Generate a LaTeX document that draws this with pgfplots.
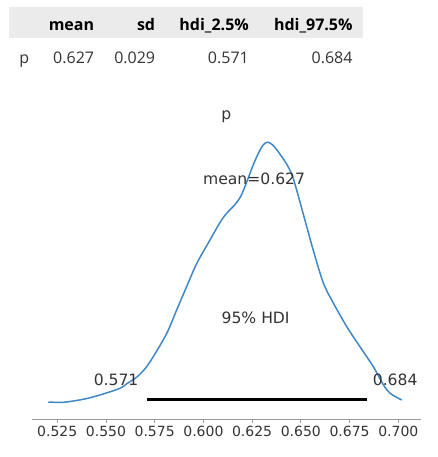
\documentclass[border=0pt]{standalone}
\usepackage{fontspec}
\usepackage{pgfplots}
\pgfplotsset{compat=1.18}
\setmainfont{DejaVu Sans}
\newfontfamily\tablefont{Open Sans}
\definecolor{kde}{HTML}{3F88C5}
\definecolor{txt}{HTML}{333333}
\definecolor{hdrbg}{HTML}{EBEBEB}
\definecolor{spine}{HTML}{9A9A9A}

\tikzset{lab/.style={text=txt, inner sep=0pt, font=\fontsize{15.6}{18}\selectfont}}

\begin{document}
\begin{tikzpicture}
  \useasboundingbox (0,0) rectangle (437pt,457pt);

  % summary table
  \fill[hdrbg] (9pt,418.7pt) rectangle (363pt,450.3pt);
  \begin{scope}[every node/.style={inner sep=0pt, font=\tablefont\fontsize{16}{19}\selectfont}]
    \node[anchor=base east] at (94.3pt,426pt) {\bfseries mean};
    \node[anchor=base east] at (155.3pt,426pt) {\bfseries sd};
    \node[anchor=base east] at (249pt,426pt) {\bfseries hdi\_2.5\%};
    \node[anchor=base east] at (352.7pt,426pt) {\bfseries hdi\_97.5\%};
    \node[anchor=base west, text=txt] at (19.3pt,393pt) {p};
    \node[anchor=base east, text=txt] at (94.3pt,393pt) {0.627};
    \node[anchor=base east, text=txt] at (155.3pt,393pt) {0.029};
    \node[anchor=base east, text=txt] at (249pt,393pt) {0.571};
    \node[anchor=base east, text=txt] at (352.7pt,393pt) {0.684};
  \end{scope}

  % panel title
  \node[lab] at (226.2pt,340.3pt) {p};

  \begin{axis}[
    at={(31.7pt,38pt)}, anchor=south west,
    scale only axis,
    width=389pt, height=284.6pt,
    xmin=0.5119, xmax=0.7115,
    ymin=-0.725, ymax=14.446,
    axis x line*=bottom,
    axis y line=none,
    axis line style={draw=spine, line width=0.9pt, -},
    xtick={0.525,0.55,0.575,0.6,0.625,0.65,0.675,0.7},
    tick align=outside,
    major tick length=4pt,
    xtick style={draw=spine, line width=0.9pt},
    xticklabel style={text=txt, font=\fontsize{14}{16}\selectfont},
    /pgf/number format/assume math mode=true,
    /pgf/number format/.cd, fixed, fixed zerofill, precision=3, /pgfplots/.cd,
    scaled x ticks=false,
    clip=false,
  ]
    % posterior density
    \addplot[kde, line width=1.5pt, smooth, tension=0.5] coordinates {
      (0.5204,0.181) (0.5281,0.165) (0.5383,0.325) (0.5469,0.554)
      (0.5572,0.912) (0.5606,1.15) (0.5657,1.50) (0.5700,1.95)
      (0.5743,2.60) (0.5812,3.84) (0.5863,5.09) (0.5914,6.33)
      (0.5966,7.57) (0.6034,8.82) (0.6085,9.75) (0.6120,10.25)
      (0.6160,10.68) (0.6192,11.15) (0.6222,11.90) (0.6255,12.80)
      (0.6285,13.50) (0.6308,13.90) (0.6330,14.03) (0.6356,13.88)
      (0.6382,13.55) (0.6428,12.85) (0.6461,12.10) (0.6513,10.18)
      (0.6564,8.26) (0.6616,6.51) (0.6667,5.45) (0.6736,4.19)
      (0.6804,3.12) (0.6872,2.06) (0.6924,1.09) (0.6958,0.645)
      (0.7018,0.288)
    };
    % 95% HDI bar
    \addplot[black, line width=3pt] coordinates {(0.571,0.289) (0.684,0.289)};

    \node[lab] at (axis cs:0.6260,12.07) {mean=0.627};
    \node[lab] at (axis cs:0.6268,4.675) {95\% HDI};
    \node[lab] at (axis cs:0.5552,1.354) {0.571};
    \node[lab] at (axis cs:0.6984,1.354) {0.684};
  \end{axis}
\end{tikzpicture}
\end{document}
